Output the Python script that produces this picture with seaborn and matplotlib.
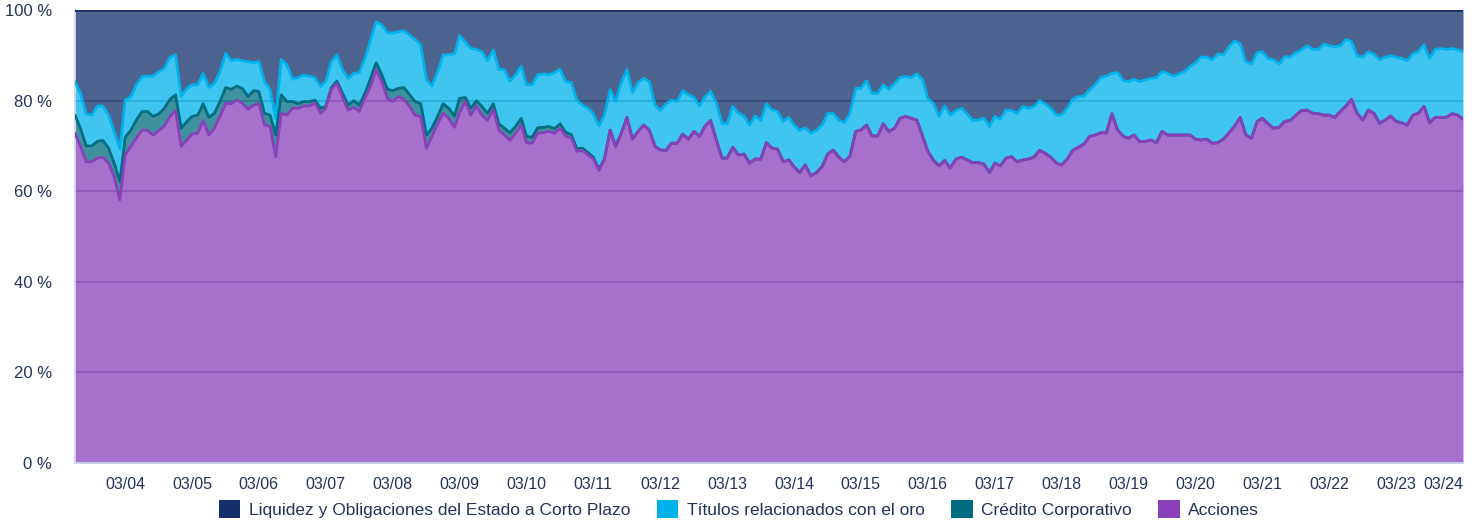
import pandas as pd
import matplotlib
matplotlib.use("Agg")
import matplotlib.pyplot as plt
import matplotlib.dates as mdates
from matplotlib.patches import Patch
import seaborn as sns

# monthly composition, June 2003 -> March 2024 (% of portfolio)
fechas = pd.date_range("2003-06-01", periods=250, freq="MS")

acciones = [
    72.8, 69.9, 66.5, 66.5, 67.3, 67.5, 66.2, 63.2, 58.1, 68.0, 69.9, 71.7,
    73.5, 73.4, 72.4, 73.4, 74.4, 76.5, 77.8, 69.9, 71.3, 72.6, 72.8, 75.6,
    72.4, 73.9, 76.5, 79.4, 79.3, 80.1, 79.4, 78.1, 79.0, 79.3, 74.6, 74.3,
    67.6, 77.2, 76.8, 78.3, 78.3, 78.8, 78.8, 79.4, 77.2, 78.3, 82.4, 83.8,
    80.7, 77.9, 78.5, 77.6, 80.5, 83.2, 86.8, 84.2, 80.5, 79.8, 80.9, 80.3,
    78.7, 76.8, 76.5, 69.5, 72.1, 74.9, 77.2, 76.1, 74.1, 77.4, 79.8, 76.8,
    78.8, 76.8, 75.6, 78.1, 73.5, 72.4, 71.2, 72.8, 74.6, 70.7, 70.6, 72.8,
    72.9, 73.2, 72.8, 73.9, 72.2, 71.7, 68.8, 69.0, 68.0, 67.1, 64.6, 67.1,
    73.5, 69.9, 72.8, 76.3, 71.5, 73.2, 74.6, 73.5, 69.9, 69.1, 69.0, 70.6,
    70.6, 72.6, 71.5, 73.2, 72.1, 74.4, 75.6, 71.3, 67.3, 67.3, 69.7, 68.0,
    68.2, 66.2, 67.1, 67.1, 70.7, 69.5, 69.3, 66.5, 66.9, 65.4, 64.1, 65.8,
    63.4, 64.1, 65.4, 68.2, 69.1, 67.5, 66.5, 67.8, 73.2, 73.5, 74.6, 72.2,
    72.2, 74.9, 73.2, 73.9, 76.1, 76.5, 76.1, 75.7, 72.1, 68.8, 66.8, 65.6,
    66.8, 65.1, 67.1, 67.5, 66.9, 66.3, 66.3, 66.0, 64.1, 66.2, 65.6, 67.3,
    67.6, 66.5, 66.9, 67.1, 67.5, 69.0, 68.4, 67.5, 66.2, 65.8, 67.1, 69.0,
    69.7, 70.4, 72.1, 72.4, 72.9, 72.9, 77.1, 73.5, 72.1, 71.7, 72.4, 71.0,
    71.0, 71.3, 70.7, 73.2, 72.4, 72.4, 72.4, 72.4, 72.4, 71.5, 71.3, 71.5,
    70.6, 70.7, 71.5, 72.9, 74.4, 76.3, 72.4, 71.7, 75.4, 76.1, 74.9, 73.9,
    74.1, 75.4, 75.6, 76.8, 77.8, 77.9, 77.2, 77.1, 76.8, 76.8, 76.3, 77.6,
    78.8, 80.3, 77.2, 75.7, 77.9, 77.2, 75.0, 75.7, 76.6, 75.4, 75.1, 74.6,
    76.8, 77.2, 78.7, 75.1, 76.3, 76.3, 76.3, 77.1, 76.8, 75.9,
]

credito = [
    4.0, 4.0, 3.5, 3.5, 3.7, 3.7, 3.3, 3.0, 4.0, 3.9, 3.6, 4.0,
    4.1, 4.2, 4.1, 3.7, 3.9, 3.8, 3.5, 4.0, 4.1, 3.9, 4.0, 3.7,
    3.9, 3.3, 3.3, 3.5, 3.2, 3.1, 3.3, 2.8, 3.2, 2.7, 2.6, 2.5,
    4.8, 4.1, 3.0, 1.5, 1.0, 1.0, 1.0, 0.7, 1.1, 0.4, 0.5, 0.5,
    0.9, 1.1, 1.5, 1.4, 1.1, 1.7, 1.6, 1.5, 2.0, 2.4, 1.8, 2.6,
    2.6, 3.0, 2.8, 2.9, 1.8, 1.6, 2.1, 2.2, 2.5, 3.1, 0.9, 1.5,
    1.2, 1.9, 1.6, 1.2, 1.4, 1.5, 1.7, 1.5, 1.5, 1.4, 1.3, 1.2,
    1.2, 1.1, 1.0, 1.0, 0.8, 0.8, 0.6, 0.5, 0.5, 0.4, 0.3, 0.0,
] + [0.0] * 154  # no corporate credit from 2011 on

oro = [
    7.4, 7.7, 7.1, 6.8, 7.8, 7.6, 7.3, 7.0, 7.2, 8.2, 7.4, 7.8,
    7.7, 7.8, 8.9, 9.3, 8.8, 9.3, 8.8, 7.0, 7.3, 7.0, 6.7, 6.7,
    6.6, 6.6, 6.6, 7.5, 6.3, 5.9, 6.1, 7.7, 6.2, 6.6, 7.0, 5.6,
    3.7, 7.8, 8.1, 4.9, 5.8, 5.8, 5.6, 5.0, 4.8, 5.5, 5.7, 5.8,
    5.2, 5.9, 6.0, 7.2, 7.7, 8.5, 9.0, 11.0, 12.5, 12.7, 12.5, 12.5,
    13.2, 13.7, 13.0, 12.2, 9.3, 9.9, 10.8, 11.8, 13.7, 13.8, 12.3, 13.2,
    11.3, 12.1, 11.6, 11.9, 12.0, 12.9, 11.4, 11.4, 11.5, 11.4, 11.6, 11.7,
    11.8, 11.4, 12.4, 12.0, 11.2, 11.5, 10.7, 9.5, 9.8, 9.6, 9.5, 9.7,
    8.9, 9.9, 11.2, 10.6, 10.3, 10.8, 10.3, 10.7, 9.1, 8.7, 10.3, 9.5,
    9.2, 9.6, 9.8, 7.5, 6.7, 6.5, 6.4, 8.1, 7.7, 7.6, 9.0, 9.2,
    8.4, 8.4, 9.5, 8.5, 8.6, 8.4, 8.3, 8.9, 9.4, 9.2, 9.3, 8.2,
    9.4, 9.3, 9.2, 8.9, 8.1, 8.2, 8.6, 9.4, 9.5, 9.2, 9.8, 9.4,
    9.4, 8.6, 9.3, 9.9, 9.0, 8.8, 9.0, 10.2, 12.5, 11.7, 12.5, 10.9,
    12.0, 11.7, 10.7, 10.8, 10.2, 9.3, 9.4, 10.1, 10.2, 10.3, 10.3, 10.6,
    10.2, 10.7, 11.8, 11.2, 11.2, 11.0, 10.9, 10.8, 10.6, 11.0, 11.2, 11.3,
    11.2, 10.6, 10.3, 11.1, 12.2, 12.5, 8.9, 12.7, 12.3, 12.5, 12.3, 13.2,
    13.6, 13.6, 14.4, 13.2, 13.6, 13.0, 13.5, 14.0, 15.1, 16.9, 18.3, 18.1,
    18.4, 19.6, 18.6, 19.0, 18.8, 16.2, 16.2, 16.4, 15.2, 14.7, 14.4, 15.1,
    14.0, 14.3, 14.0, 13.8, 13.4, 14.2, 14.1, 14.2, 15.7, 15.3, 15.6, 14.5,
    14.7, 12.7, 12.7, 13.9, 12.9, 13.1, 14.0, 13.9, 13.3, 14.2, 14.2, 14.2,
    13.5, 13.6, 13.6, 14.2, 15.0, 15.2, 15.0, 14.4, 14.4, 14.9,
]

nombres = ["Liquidez y Obligaciones del Estado a Corto Plazo",
           "Títulos relacionados con el oro", "Crédito Corporativo", "Acciones"]
colores = ["#13306b", "#00b2ec", "#006d80", "#8840bb"]

df = pd.DataFrame({"fecha": fechas, "Acciones": acciones,
                   "Crédito": credito, "Oro": oro})
# the rest of the portfolio up to 100 %
df["Liquidez"] = 100 - df["Acciones"] - df["Crédito"] - df["Oro"]

sns.set_theme(style="white")
plt.rcParams["font.family"] = ["Liberation Sans", "DejaVu Sans"]
txt = "#24335a"

fig = plt.figure(figsize=(14.78, 5.2), dpi=100)
ax = fig.add_axes([75 / 1478, 1 - 463 / 520, 1388 / 1478, 453 / 520])

for yv in [20, 40, 60, 80]:
    ax.axhline(yv, color="#9a9aa6", lw=1.2, zorder=0)

ax.stackplot(df["fecha"], df["Acciones"], df["Crédito"], df["Oro"], df["Liquidez"],
             colors=colores[::-1], alpha=0.75, lw=0, zorder=1)

# upper edge of every band, top series first so Acciones ends up on top
df["top_acc"] = df["Acciones"]
df["top_cre"] = df["top_acc"] + df["Crédito"]
df["top_oro"] = df["top_cre"] + df["Oro"]
df["top_liq"] = df["top_oro"] + df["Liquidez"]
for col, c in zip(["top_liq", "top_oro", "top_cre", "top_acc"], colores):
    sns.lineplot(data=df, x="fecha", y=col, color=c, lw=2.0, ax=ax, zorder=3)

ax.set_xlim(fechas[0], fechas[-1])
ax.set_ylim(0, 100)
ax.set_yticks([0, 20, 40, 60, 80, 100])
ax.set_yticklabels([f"{v} %" for v in [0, 20, 40, 60, 80, 100]])
ax.xaxis.set_major_locator(mdates.MonthLocator(bymonth=3))
ax.xaxis.set_major_formatter(mdates.DateFormatter("%m/%y"))
ax.set_xlabel("")
ax.set_ylabel("")
ax.tick_params(axis="x", length=7.2, width=1, color="#ccd6eb", labelsize=11.5, pad=3)
ax.tick_params(axis="y", length=0, labelsize=12, colors=txt, pad=16.5)
for lab in ax.get_xticklabels():
    lab.set_color(txt)
ax.get_xticklabels()[-1].set_ha("right")

for s in ["top", "right"]:
    ax.spines[s].set_visible(False)
ax.spines["left"].set_color("#ccd6eb")
ax.spines["bottom"].set_color("#ccd6eb")

handles = [Patch(facecolor=c, edgecolor="none") for c in colores]
fig.legend(handles, nombres, loc="lower center", ncol=4, frameon=False,
           bbox_to_anchor=(0.5, -0.026), fontsize=12.5, labelcolor=txt,
           handlelength=1.25, handleheight=1.25, handletextpad=0.5,
           columnspacing=1.5)

fig.savefig("out.png", dpi=100)
